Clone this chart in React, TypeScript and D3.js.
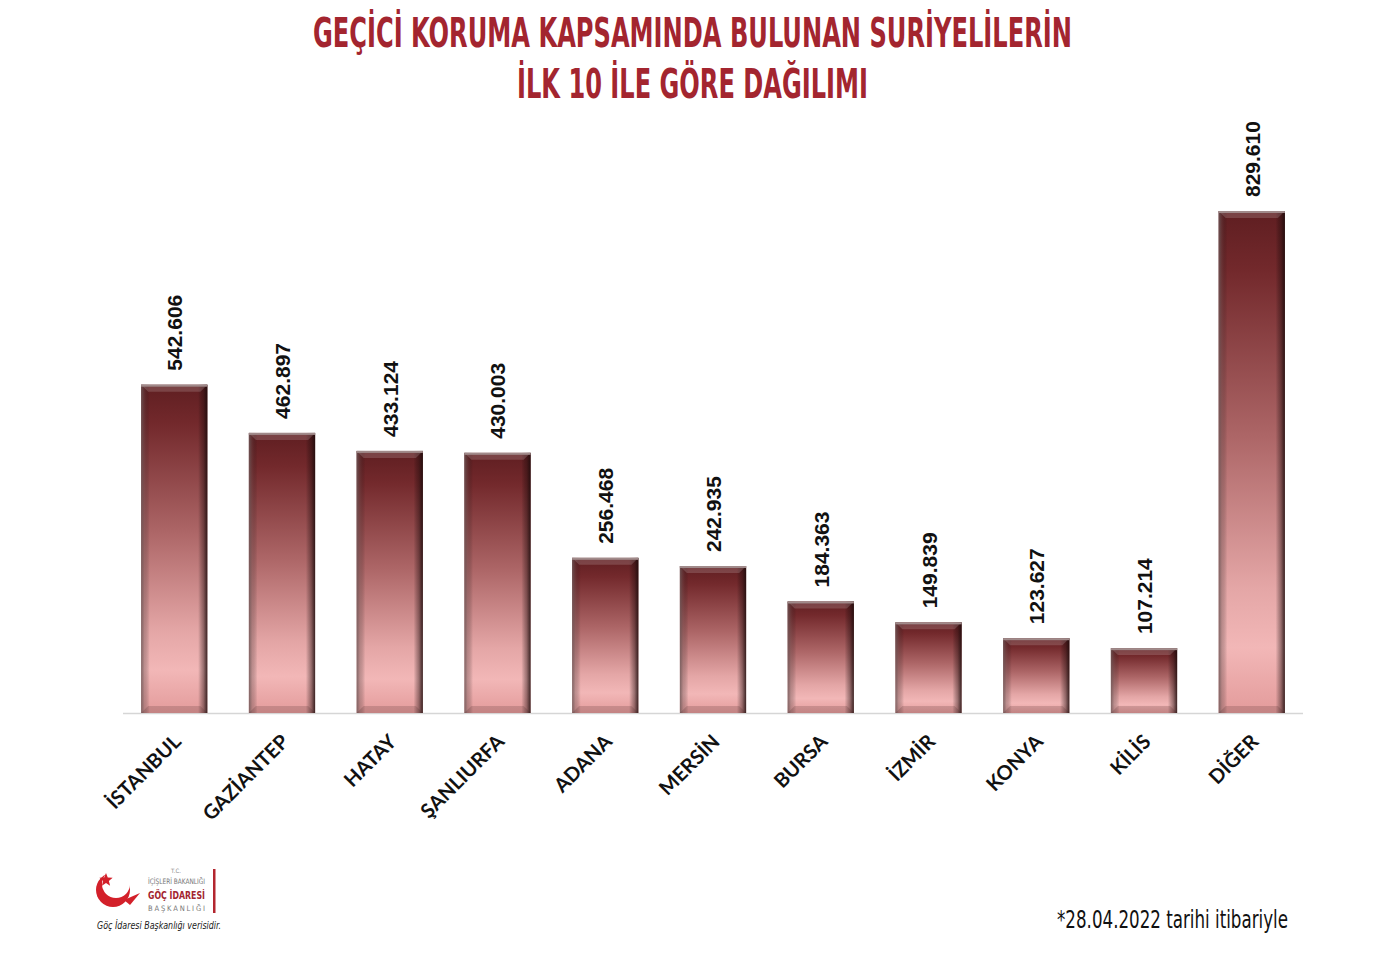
import React from "react";
import * as d3 from "d3";

const categories = ["İSTANBUL", "GAZİANTEP", "HATAY", "ŞANLIURFA", "ADANA", "MERSİN", "BURSA", "İZMİR", "KONYA", "KİLİS", "DİĞER"];
const values = [542606, 462897, 433124, 430003, 256468, 242935, 184363, 149839, 123627, 107214, 829610];
const titleLines = ["GEÇİCİ KORUMA KAPSAMINDA BULUNAN SURİYELİLERİN", "İLK 10 İLE GÖRE DAĞILIMI"];
const footnote = "*28.04.2022 tarihi itibariyle";
const sourceNote = "Göç İdaresi Başkanlığı verisidir.";

const W = 1386;
const H = 954;
const baseY = 713;

const fmt = (v: number) => d3.format(",")(v).replace(/,/g, ".");

export default function App() {
  const x = d3.scaleBand<string>().domain(categories).range([123, 1303]).paddingInner(0.385).paddingOuter(0.168);
  const y = d3.scaleLinear().domain([0, 829610]).range([baseY, 211]);
  const bw = x.bandwidth();
  const bev = 7;

  return (
    <svg width={W} height={H} style={{ display: "block", position: "absolute", left: 0, top: 0 }}>
      <defs>
        <linearGradient id="gv" x1="0" y1="0" x2="0" y2="1">
          <stop offset="0" stopColor="#5f1e21" />
          <stop offset="0.12" stopColor="#73292c" />
          <stop offset="0.45" stopColor="#ad6667" />
          <stop offset="0.75" stopColor="#e4a6a6" />
          <stop offset="0.87" stopColor="#f2b7b7" />
          <stop offset="1" stopColor="#e39b9b" />
        </linearGradient>
        <linearGradient id="gh" x1="0" y1="0" x2="1" y2="0">
          <stop offset="0" stopColor="#6f5a5a" stopOpacity="0.85" />
          <stop offset="0.05" stopColor="#5a4545" stopOpacity="0.35" />
          <stop offset="0.13" stopColor="#000" stopOpacity="0" />
          <stop offset="0.86" stopColor="#000" stopOpacity="0" />
          <stop offset="0.94" stopColor="#1a0a0a" stopOpacity="0.4" />
          <stop offset="1" stopColor="#1a0a0a" stopOpacity="0.85" />
        </linearGradient>
        <mask id="crescent">
          <rect x={80} y={860} width={70} height={60} fill="#fff" />
          <circle cx={116} cy={884} r={14} fill="#000" />
        </mask>
      </defs>
      <rect width={W} height={H} fill="#fff" />
      {titleLines.map((t, i) => (
        <text
          key={i}
          x={W / 2 - 0.5}
          y={i === 0 ? 47 : 98}
          textAnchor="middle"
          fontFamily="'DejaVu Sans Condensed', 'DejaVu Sans', sans-serif"
          fontWeight="bold"
          fontSize={41}
          fill="#a3252f"
          textLength={i === 0 ? 759 : 351}
          lengthAdjust="spacingAndGlyphs"
        >
          {t}
        </text>
      ))}
      <line x1={x.range()[0]} x2={x.range()[1]} y1={baseY + 0.5} y2={baseY + 0.5} stroke="#d6d6d6" strokeWidth={1.5} />
      {categories.map((c, i) => {
        const x0 = x(c)!;
        const y0 = y(values[i]);
        const h = baseY - y0;
        const cx = x0 + bw / 2;
        return (
          <g key={c}>
            <rect x={x0} y={y0} width={bw} height={h} fill="url(#gv)" />
            <rect x={x0} y={y0} width={bw} height={h} fill="url(#gh)" />
            <polygon
              points={`${x0},${y0} ${x0 + bw},${y0} ${x0 + bw - bev},${y0 + bev} ${x0 + bev},${y0 + bev}`}
              fill="#ffffff"
              fillOpacity={0.16}
            />
            <polygon
              points={`${x0},${baseY} ${x0 + bw},${baseY} ${x0 + bw - bev},${baseY - bev} ${x0 + bev},${baseY - bev}`}
              fill="#3a1a1a"
              fillOpacity={0.18}
            />
            <rect x={x0} y={y0} width={bw} height={2} fill="#a08a8a" />
            <text
              transform={`translate(${cx + 8},${y0 - 14}) rotate(-90)`}
              fontFamily="'Liberation Sans', Arial, sans-serif"
              fontWeight="bold"
              fontSize={21}
              fill="#111"
            >
              {fmt(values[i])}
            </text>
            <text
              transform={`translate(${cx + 8},${baseY + 30}) rotate(-45)`}
              textAnchor="end"
              fontFamily="Lato, 'Open Sans', sans-serif"
              fontWeight="bold"
              fontSize={20}
              fill="#111"
            >
              {c}
            </text>
          </g>
        );
      })}
      {/* logo */}
      <g>
        <circle cx={113} cy={890} r={17} fill="#d3202a" mask="url(#crescent)" />
        <path d="M 124 900 L 140 893 L 130 905 Z" fill="#d3202a" />
        <polygon
          points={d3.range(10).map((k) => {
            const r = k % 2 === 0 ? 7 : 3;
            const a = -Math.PI / 2 + (k * Math.PI) / 5;
            return `${106 + r * Math.cos(a)},${880 + r * Math.sin(a)}`;
          }).join(" ")}
          fill="#d3202a"
        />
        <text x={176} y={873} fontFamily="'DejaVu Sans Condensed', sans-serif" fontSize={6} fill="#888" textAnchor="middle">T.C.</text>
        <text x={148} y={884} fontFamily="'DejaVu Sans Condensed', sans-serif" fontSize={7.5} fill="#777" textLength={57} lengthAdjust="spacingAndGlyphs">İÇİŞLERİ BAKANLIĞI</text>
        <text x={148} y={899} fontFamily="'DejaVu Sans Condensed', sans-serif" fontWeight="bold" fontSize={11} fill="#a3252f" textLength={57} lengthAdjust="spacingAndGlyphs">GÖÇ İDARESİ</text>
        <text x={148} y={911} fontFamily="'DejaVu Sans Condensed', sans-serif" fontSize={7.5} fill="#777" textLength={57} lengthAdjust="spacing">BAŞKANLIĞI</text>
        <rect x={213} y={869} width={2.5} height={44} fill="#b3262f" />
        <text x={97} y={929} fontFamily="'DejaVu Sans Condensed', sans-serif" fontStyle="italic" fontSize={11} fill="#222" textLength={124} lengthAdjust="spacingAndGlyphs">{sourceNote}</text>
      </g>
      <text
        x={1288}
        y={928}
        textAnchor="end"
        fontFamily="'Liberation Sans Narrow', 'DejaVu Sans Condensed', sans-serif"
        fontSize={25}
        fill="#111"
        textLength={231}
        lengthAdjust="spacingAndGlyphs"
      >
        {footnote}
      </text>
    </svg>
  );
}
